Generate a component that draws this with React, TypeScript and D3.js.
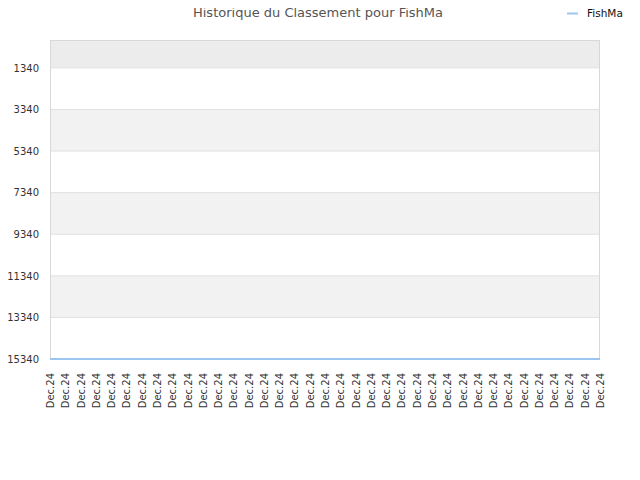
import { useEffect, useRef } from 'react';
import * as d3 from 'd3';

// Dates shown under each point (all in December 2024)
const dateLabels: string[] = [
  'Dec.24', 'Dec.24', 'Dec.24', 'Dec.24', 'Dec.24', 'Dec.24', 'Dec.24', 'Dec.24',
  'Dec.24', 'Dec.24', 'Dec.24', 'Dec.24', 'Dec.24', 'Dec.24', 'Dec.24', 'Dec.24',
  'Dec.24', 'Dec.24', 'Dec.24', 'Dec.24', 'Dec.24', 'Dec.24', 'Dec.24', 'Dec.24',
  'Dec.24', 'Dec.24', 'Dec.24', 'Dec.24', 'Dec.24', 'Dec.24', 'Dec.24', 'Dec.24',
  'Dec.24', 'Dec.24', 'Dec.24', 'Dec.24', 'Dec.24',
];

// Ranking of FishMa for each date
const rankValues: number[] = [
  15340, 15340, 15340, 15340, 15340, 15340, 15340, 15340,
  15340, 15340, 15340, 15340, 15340, 15340, 15340, 15340,
  15340, 15340, 15340, 15340, 15340, 15340, 15340, 15340,
  15340, 15340, 15340, 15340, 15340, 15340, 15340, 15340,
  15340, 15340, 15340, 15340, 15340,
];

const yTicks: number[] = [1340, 3340, 5340, 7340, 9340, 11340, 13340, 15340];
const yDomain: [number, number] = [0, 15340];

const seriesName = 'FishMa';
const chartTitle = 'Historique du Classement pour FishMa';

const Chart: React.FC = () => {
  const ref = useRef<SVGSVGElement | null>(null);

  useEffect(() => {
    if (!ref.current) return;
    const svg = d3.select(ref.current);
    svg.selectAll('*').remove();

    const width = 640;
    const height = 480;
    const margin = { top: 40, right: 40, bottom: 121, left: 50 };
    const font = 'DejaVu Sans, sans-serif';

    const x = d3.scalePoint<number>()
      .domain(dateLabels.map((_, i) => i))
      .range([margin.left, width - margin.right]);

    // rank: lower is better, so small values sit at the top
    const y = d3.scaleLinear()
      .domain(yDomain)
      .range([margin.top, height - margin.bottom]);

    // top strip above the first tick
    svg.append('rect')
      .attr('x', margin.left)
      .attr('y', y(yDomain[0]))
      .attr('width', width - margin.left - margin.right)
      .attr('height', y(yTicks[0]) - y(yDomain[0]))
      .attr('fill', '#ececec');

    // alternating bands between ticks
    yTicks.slice(0, -1).forEach((t, i) => {
      svg.append('rect')
        .attr('x', margin.left)
        .attr('y', y(t))
        .attr('width', width - margin.left - margin.right)
        .attr('height', y(yTicks[i + 1]) - y(t))
        .attr('fill', i % 2 === 0 ? '#ffffff' : '#f2f2f2');
    });

    // grid lines
    svg.append('g')
      .selectAll('line')
      .data(yTicks)
      .enter()
      .append('line')
      .attr('x1', margin.left)
      .attr('x2', width - margin.right)
      .attr('y1', d => y(d))
      .attr('y2', d => y(d))
      .attr('stroke', '#e0e0e0')
      .attr('stroke-width', 1);

    // frame
    svg.append('rect')
      .attr('x', margin.left + 0.5)
      .attr('y', margin.top + 0.5)
      .attr('width', width - margin.left - margin.right - 1)
      .attr('height', height - margin.top - margin.bottom - 1)
      .attr('fill', 'none')
      .attr('stroke', '#d8d8d8');

    // y axis labels
    const yAxis = svg.append('g')
      .attr('transform', `translate(${margin.left},0)`)
      .call(d3.axisLeft(y).tickValues(yTicks).tickSize(0).tickPadding(11).tickFormat(d => String(d)));
    yAxis.select('.domain').remove();
    yAxis.selectAll('text')
      .style('font-family', font)
      .style('font-size', '10px')
      .attr('fill', '#333');

    // x axis labels, rotated
    const xAxis = svg.append('g')
      .attr('transform', `translate(0,${height - margin.bottom})`)
      .call(d3.axisBottom(x).tickSize(0).tickFormat(i => dateLabels[i as number]));
    xAxis.select('.domain').remove();
    xAxis.selectAll('text')
      .style('font-family', font)
      .style('font-size', '10px')
      .attr('fill', '#333')
      .attr('text-anchor', 'end')
      .attr('dy', '0.35em')
      .attr('transform', 'translate(0,14) rotate(-90)')
      .attr('x', 0)
      .attr('y', 0);

    // series line
    const line = d3.line<number>()
      .x((_, i) => x(i) ?? 0)
      .y(d => y(d));
    svg.append('path')
      .datum(rankValues)
      .attr('fill', 'none')
      .attr('stroke', '#9cc5f2')
      .attr('stroke-width', 2)
      .attr('d', line);

    // title
    svg.append('text')
      .attr('x', 318)
      .attr('y', 17)
      .attr('text-anchor', 'middle')
      .style('font-family', font)
      .style('font-size', '13px')
      .attr('fill', '#555')
      .text(chartTitle);

    // legend
    svg.append('line')
      .attr('x1', 567)
      .attr('x2', 578)
      .attr('y1', 13.5)
      .attr('y2', 13.5)
      .attr('stroke', '#9cc5f2')
      .attr('stroke-width', 2);
    svg.append('text')
      .attr('x', 587)
      .attr('y', 17)
      .style('font-family', font)
      .style('font-size', '10.5px')
      .attr('fill', '#111')
      .text(seriesName);

    return () => {
      svg.selectAll('*').remove();
    };
  }, []);

  return <svg ref={ref} width={640} height={480} style={{ display: 'block' }}></svg>;
};

export default function App() {
  return (
    <div style={{ margin: -8 }}>
      <Chart />
    </div>
  );
}
